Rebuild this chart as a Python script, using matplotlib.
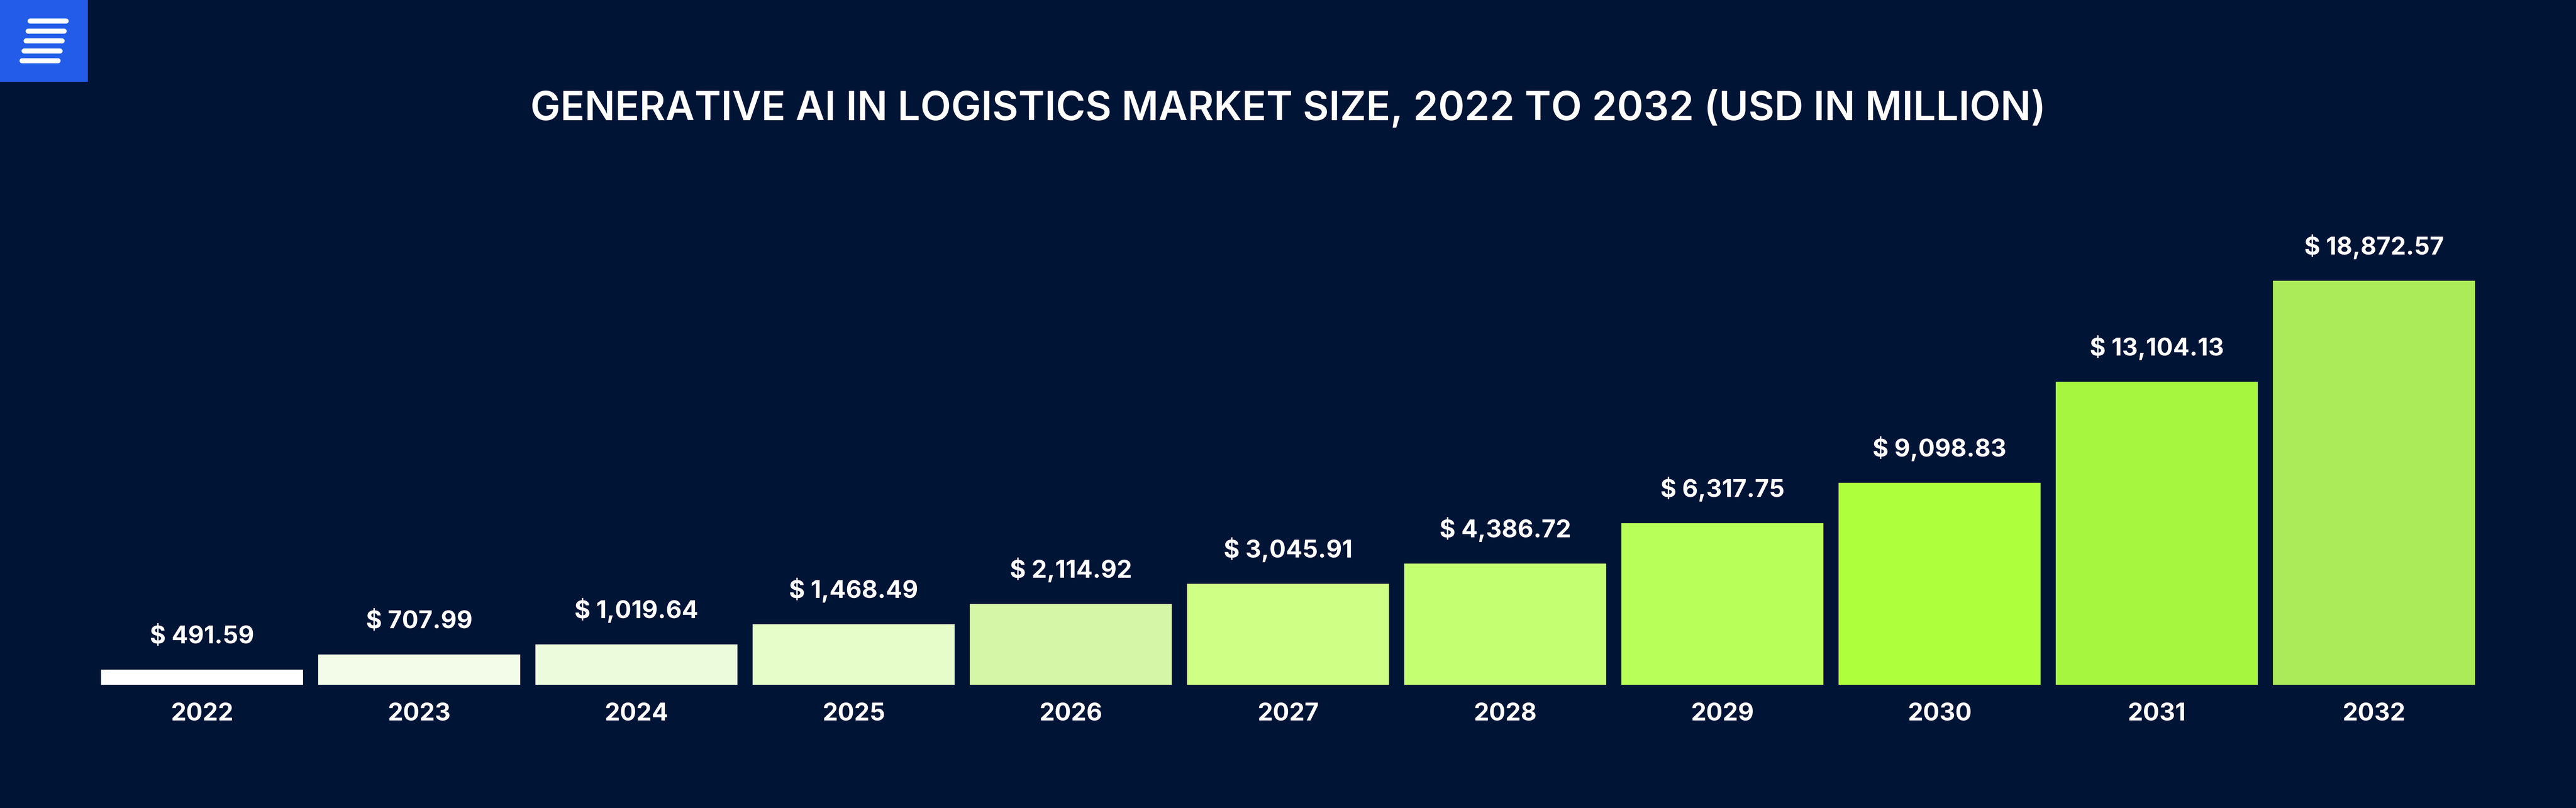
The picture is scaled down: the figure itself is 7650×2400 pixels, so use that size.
# -*- coding: utf-8 -*-
"""
Taille du marché de l'IA générative dans la logistique (2022 - 2032)
Description :
    - Valeurs du marché (USD en millions) et hauteurs des barres
    - Diagramme en barres sur fond bleu nuit
    - Logo en haut à gauche
"""

# === Imports ===
import numpy as np
import pandas as pd
import matplotlib.pyplot as plt

plt.rcParams['font.family'] = ['Inter', 'DejaVu Sans']


# =====================================================================
# 1. Données
# =====================================================================
market = pd.DataFrame({
    'annee': [2022, 2023, 2024, 2025, 2026, 2027, 2028, 2029, 2030, 2031, 2032],
    'valeur': [491.59, 707.99, 1019.64, 1468.49, 2114.92, 3045.91, 4386.72,
               6317.75, 9098.83, 13104.13, 18872.57],
    # Les barres de l'original ne sont pas proportionnelles aux valeurs
    'hauteur': [45, 90, 120, 180, 240, 300, 360, 480, 600, 900, 1200],
    'couleur': ['#FFFFFF', '#F2FCE9', '#EDFBDD', '#E6FCC9', '#D5F5A7', '#CFFF84',
                '#C4FF72', '#B9FF59', '#AEFF3C', '#A6F63F', '#ABEA58'],
})
x = np.arange(len(market))

FOND = '#001436'


# =====================================================================
# 2. Diagramme en barres
# =====================================================================
fig = plt.figure(figsize=(25.5, 8), dpi=300, facecolor=FOND)
plt.axes([277.5 / 7650, 366 / 2400, 7095 / 7650, 1400 / 2400], facecolor=FOND)

plt.bar(x, market['hauteur'], width=600 / 645, color=market['couleur'])

# Valeurs au-dessus des barres
for i in x:
    plt.annotate(f"$ {market['valeur'][i]:,.2f}", (i, market['hauteur'][i]),
                 xytext=(0, 18.7), textcoords='offset points', ha='center', va='baseline',
                 color='white', fontsize=17.4, fontweight='bold')

plt.xticks(x, market['annee'], color='white', fontsize=17.4, fontweight='bold')
plt.tick_params(axis='x', length=0, pad=12.8)
plt.yticks([])
plt.xlim(-0.5, 10.5)
plt.ylim(0, 1400)
plt.gca().spines[:].set_visible(False)

# Titre
plt.figtext(0.5, 1 - 357 / 2400, "GENERATIVE AI IN LOGISTICS MARKET SIZE, 2022 TO 2032 (USD IN MILLION)",
            ha='center', va='baseline', color='white', fontsize=28.55, fontweight=600)


# =====================================================================
# 3. Logo
# =====================================================================
plt.axes([0, 1 - 243 / 2400, 261 / 7650, 243 / 2400], facecolor='#225CE8')
y_logo = [62, 92, 121, 151, 180]
x_debut = [89, 83, 77, 71, 65]
for y0, x0 in zip(y_logo, x_debut):
    plt.plot([x0, x0 + 107], [y0, y0], color='white', linewidth=3.6, solid_capstyle='round')
plt.xlim(0, 261)
plt.ylim(243, 0)
plt.xticks([])
plt.yticks([])
plt.gca().spines[:].set_visible(False)

plt.savefig('out.png', facecolor=FOND)
